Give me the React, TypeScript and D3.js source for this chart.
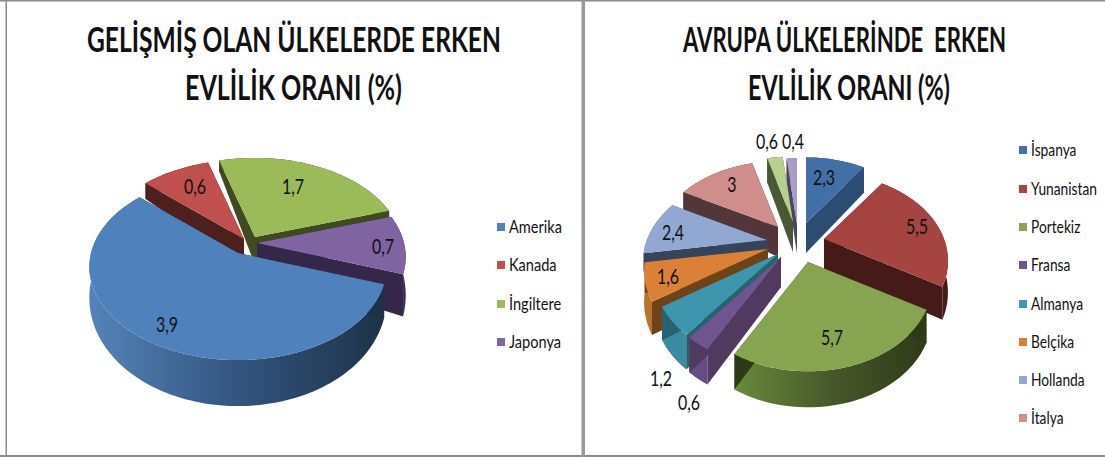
import React from "react";
import * as d3 from "d3";

// ---- data ----
const leftCategories = ["Amerika", "Kanada", "İngiltere", "Japonya"];
const leftValues = [3.9, 0.6, 1.7, 0.7];
const leftLabels = ["3,9", "0,6", "1,7", "0,7"];

const rightCategories = ["İspanya", "Yunanistan", "Portekiz", "Fransa", "Almanya", "Belçika", "Hollanda", "İtalya"];
const rightValues = [2.3, 5.5, 5.7, 0.6, 1.2, 1.6, 2.4, 3, 0.6, 0.4];
const rightLabels = ["2,3", "5,5", "5,7", "0,6", "1,2", "1,6", "2,4", "3", "0,6", "0,4"];

// ---- colours: top, outer wall (start/end for gradient), radial wall ----
const leftTop = ["#4f81bd", "#c0504d", "#9bbb59", "#8064a2"];
const leftOuter = [["#5583b8", "#33557f", "#1d3248"], ["#4d1f1d"], ["#3f4a20"], ["#35264a"]];
const leftWall = ["#1d3248", "#4d1f1d", "#3f4a20", "#35264a"];

const rightTop = ["#426fa6", "#a64442", "#87a550", "#6f5590", "#3d96ae", "#da8137", "#91a9d2", "#cf8d8c", "#b7cf8f", "#a99ccb"];
const rightOuter = [["#2c4a6e"], ["#471b19"], ["#6a8a3c", "#47582a", "#2e3a17"], ["#654c85"], ["#3a8ba2"], ["#b8742d"], ["#35445a"], ["#52363a"], ["#4a5835"], ["#4b4560"]];
const rightWall = ["#2c4c72", "#451a18", "#2e3a17", "#503a60", "#27636f", "#6e4318", "#35445a", "#52363a", "#4a5835", "#4b4560"];

// ---- layout ----
const leftOrder = [1, 2, 3, 0];
const rightOrder = [9, 8, 0, 7, 6, 5, 4, 3, 1, 2];
const leftApex = [[238, 253], [244, 239], [255, 237], [257, 243]];
const rightApex = [[806, 223], [824, 239], [808, 262], [781, 257], [778, 254], [768, 249], [767, 240], [778, 227], [793, 222], [797, 224]];
const leftLabelAt = [[167, 325], [195, 187], [293, 187], [383, 247]];
const rightLabelAt = [[824, 178], [917, 227], [832, 338], [689, 403], [661, 379], [668, 277], [673, 233], [732, 185], [767, 142], [793, 142]];
const leftLegendY = [227, 265, 304, 342];
const rightLegendY = [150, 189, 227, 265, 304, 342, 380, 418];
const leftDepthScale = [1, 1, 1, 1.25];
const rightDepthScale = [1, 1, 1, 1, 1, 1, 0.6, 0.7, 1, 1];

type Proj = { c: number; a: number; k: number; d0: number; d1: number; startDeg: number };
const leftProj: Proj = { c: 147, a: 91, k: 0.15, d0: 28, d1: 18, startDeg: 109 };
const rightProj: Proj = { c: 120, a: 82, k: 0.25, d0: 30, d1: 6, startDeg: 0 };

const lineGen = d3.line<number[]>().x((p) => p[0]).y((p) => p[1]);

const ctx = document.createElement("canvas").getContext("2d")!;
function fitScale(text: string, size: number, weight: number, width: number) {
  ctx.font = `${weight} ${size}px Lato`;
  return width / ctx.measureText(text).width;
}

function Pie3D({ id, values, labels, top, outer, wall, order, apex, labelAt, proj, depthScale }: any) {
  const arcs = d3.pie<number>().sort(null)
    .startAngle((proj.startDeg * Math.PI) / 180)
    .endAngle((proj.startDeg * Math.PI) / 180 + 2 * Math.PI)(values);

  const pt = (th: number, i: number, sink: number) => {
    const u = Math.sin(th), v = -Math.cos(th);
    const w = 1 - proj.k * v;
    const dep = sink ? (proj.d0 + proj.d1 * v) * depthScale[i] : 0;
    return [apex[i][0] + (proj.c * u) / w, apex[i][1] + (proj.a * v) / w + dep];
  };

  return (
    <g>
      {order.map((i: number) => {
        const arc = arcs[i];
        const n = Math.max(2, Math.ceil((arc.endAngle - arc.startAngle) / 0.03));
        const ths = d3.range(n + 1).map((j) => arc.startAngle + ((arc.endAngle - arc.startAngle) * j) / n);
        const rimTop = ths.map((t) => pt(t, i, 0));
        const rimBot = ths.map((t) => pt(t, i, 1));
        const A = apex[i];
        const B = [A[0], A[1] + proj.d0];
        const xs = rimBot.map((p) => p[0]);
        const stops: string[] = outer[i];
        const gid = `${id}-g${i}`;
        return (
          <g key={i}>
            {stops.length > 1 && (
              <defs>
                <linearGradient id={gid} gradientUnits="userSpaceOnUse" x1={d3.min(xs)} x2={d3.max(xs)} y1={0} y2={0}>
                  {stops.map((s, j) => (
                    <stop key={j} offset={j / (stops.length - 1)} stopColor={s} />
                  ))}
                </linearGradient>
              </defs>
            )}
            <path d={lineGen([...rimTop, ...rimBot.slice().reverse()]) + "Z"} fill={stops.length > 1 ? `url(#${gid})` : stops[0]} />
            <path d={lineGen([A, rimTop[0], rimBot[0], B]) + "Z"} fill={wall[i]} />
            <path d={lineGen([A, rimTop[n], rimBot[n], B]) + "Z"} fill={wall[i]} />
            <path d={lineGen([A, ...rimTop]) + "Z"} fill={top[i]} />
          </g>
        );
      })}
      {labels.map((t: string, i: number) => (
        <Squeezed key={i} x={labelAt[i][0]} y={labelAt[i][1] + 7} size={21} anchor="middle" text={t} sx={0.76} />
      ))}
    </g>
  );
}

function Squeezed({ x, y, size, text, anchor, sx, weight }: any) {
  return (
    <text transform={`translate(${x},${y}) scale(${sx},1)`} fontFamily="Lato" fontSize={size} fontWeight={weight ?? 400} textAnchor={anchor ?? "start"} fill="#111" style={{ whiteSpace: "pre" }}>
      {text}
    </text>
  );
}

function Legend({ names, colors, ys, xs, sx }: any) {
  return (
    <g>
      {names.map((n: string, i: number) => (
        <g key={n}>
          <rect x={xs} y={ys[i] - 4} width={8} height={8} fill={colors[i]} />
          <Squeezed x={xs + 12} y={ys[i] + 6} size={18} text={n} sx={sx} />
        </g>
      ))}
    </g>
  );
}

function Title({ text, x0, x1, y }: any) {
  const size = 35;
  return <Squeezed x={x0} y={y} size={size} weight={700} text={text} sx={fitScale(text, size, 700, x1 - x0)} />;
}

export default function App() {
  return (
    <svg width={1105} height={457} style={{ position: "absolute", left: 0, top: 0, background: "#fff" }}>
      <rect x={0} y={0} width={1105} height={1.5} fill="#8c8c8c" />
      <rect x={5.5} y={0} width={1.5} height={457} fill="#8c8c8c" />
      <rect x={0} y={455} width={1105} height={2} fill="#8c8c8c" />
      <rect x={581.5} y={0} width={3.5} height={457} fill="#9a9a9a" />

      <Title text="GELİŞMİŞ OLAN ÜLKELERDE ERKEN" x0={87} x1={501} y={52} />
      <Title text="EVLİLİK ORANI (%)" x0={185} x1={402} y={100} />
      <Title text="AVRUPA ÜLKELERİNDE  ERKEN" x0={683} x1={1007} y={52} />
      <Title text="EVLİLİK ORANI (%)" x0={748} x1={950} y={100} />

      <Pie3D id="l" values={leftValues} labels={leftLabels} top={leftTop} outer={leftOuter} wall={leftWall} order={leftOrder} apex={leftApex} labelAt={leftLabelAt} proj={leftProj} depthScale={leftDepthScale} />
      <Pie3D id="r" values={rightValues} labels={rightLabels} top={rightTop} outer={rightOuter} wall={rightWall} order={rightOrder} apex={rightApex} labelAt={rightLabelAt} proj={rightProj} depthScale={rightDepthScale} />

      <Legend names={leftCategories} colors={leftTop} ys={leftLegendY} xs={497} sx={0.81} />
      <Legend names={rightCategories} colors={rightTop} ys={rightLegendY} xs={1019} sx={0.765} />
    </svg>
  );
}
